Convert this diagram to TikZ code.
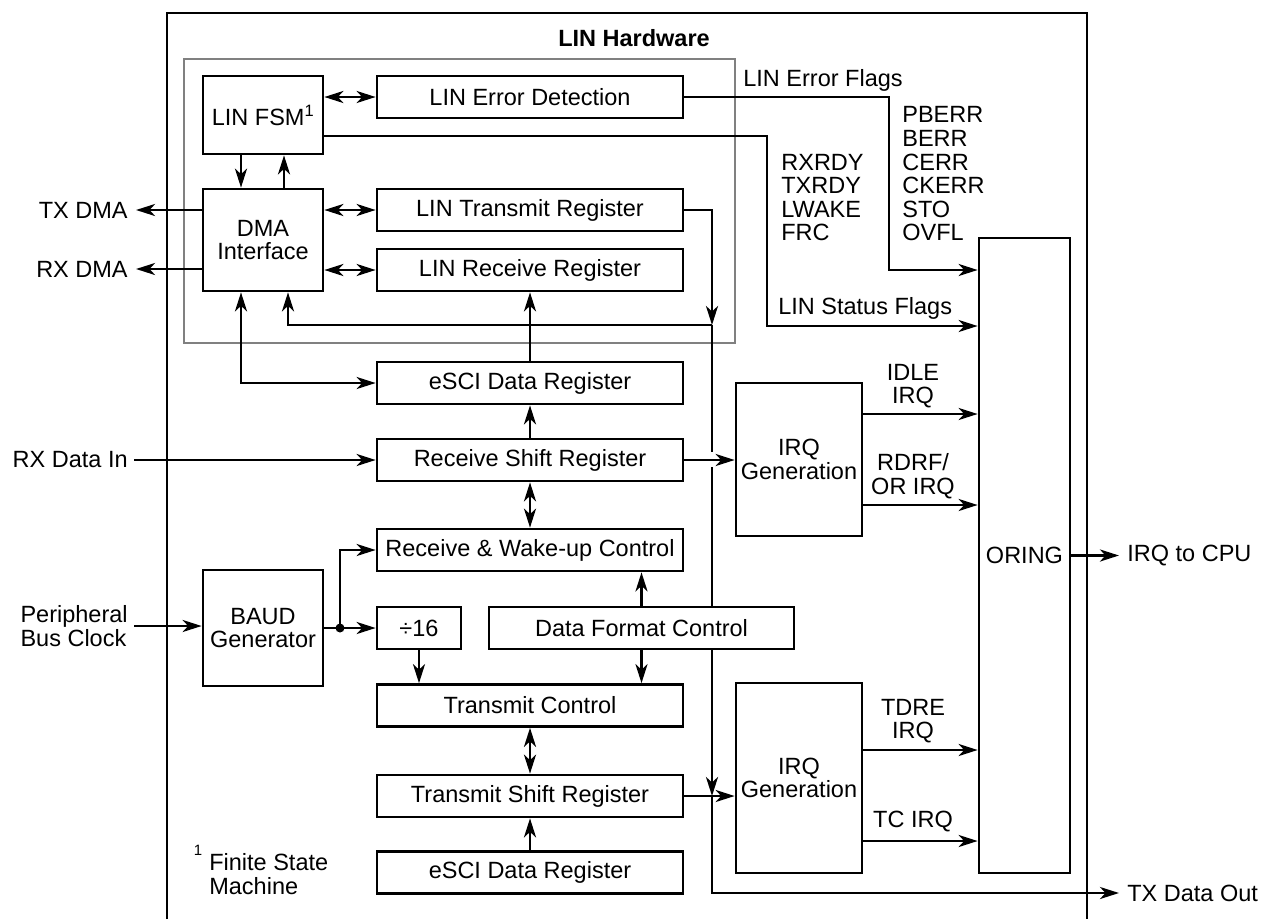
\documentclass[tikz,border=0pt]{standalone}
\usepackage{fontspec}
\setmainfont{Liberation Sans}
\usetikzlibrary{arrows.meta}
\newcommand\myfs{\fontsize{23.5}{23.6}\selectfont}
\definecolor{framegray}{RGB}{128,128,128}
\begin{document}
\begin{tikzpicture}[x=1pt,y=-1pt, line width=2.7pt,
  >={Stealth[length=19pt,width=12pt,inset=5.5pt]},
  every node/.style={font=\myfs},
  box/.style={draw, fill=white, inner sep=0pt, align=center, minimum height=42pt},
  lbl/.style={inner sep=0pt, align=left},
  graybox/.style={draw=framegray, line width=2.5pt}]
\useasboundingbox (0,0) rectangle (1263,919);

% outer frame and LIN hardware frame
\draw (167,919) -- (167,13) -- (1087,13) -- (1087,919);
\draw[graybox] (184,59) rectangle (735,343);
\node[font=\myfs\bfseries, inner sep=0pt] (hw) at (634,38) {LIN Hardware};

% blocks
\node[box, minimum width=120pt, minimum height=78pt] (fsm) at (263,115) {LIN FSM\textsuperscript{1}};
\node[box, minimum width=306pt] (errdet) at (530,97) {LIN Error Detection};
\node[box, minimum width=120pt, minimum height=102pt] (dma) at (263,240) {DMA\\Interface};
\node[box, minimum width=306pt] (ltr) at (530,210) {LIN Transmit Register};
\node[box, minimum width=306pt] (lrr) at (530,270) {LIN Receive Register};
\node[box, minimum width=306pt] (esci1) at (530,383) {eSCI Data Register};
\node[box, minimum width=306pt] (rsr) at (530,460) {Receive Shift Register};
\node[box, minimum width=306pt] (rwc) at (530,550) {Receive \& Wake-up Control};
\node[box, minimum width=84pt] (div) at (419,628) {÷16};
\node[box, minimum width=305pt] (dfc) at (641.5,628) {Data Format Control};
\node[box, minimum width=120pt, minimum height=116pt] (baud) at (263,628) {BAUD\\Generator};
\node[box, minimum width=306pt] (tc) at (530,705.5) {Transmit Control};
\node[box, minimum width=306pt] (tsr) at (530,796) {Transmit Shift Register};
\node[box, minimum width=306pt] (esci2) at (530,872.5) {eSCI Data Register};
\node[box, minimum width=126pt, minimum height=153pt] (irq1) at (799,459.5) {IRQ\\Generation};
\node[box, minimum width=126pt, minimum height=190pt] (irq2) at (799,778) {IRQ\\Generation};
\node[box, minimum width=91pt, minimum height=635pt] (oring) at (1024.5,555.5) {ORING};

% outside labels
\node[lbl, anchor=east] (txdma) at (129,210) {TX DMA};
\node[lbl, anchor=east] (rxdma) at (129,269) {RX DMA};
\node[lbl, anchor=east] (rxin) at (129,460) {RX Data In};
\node[lbl, anchor=east] (pbc) at (129,626) {Peripheral\\Bus Clock};
\node[lbl, anchor=west] (cpu) at (1126,555.5) {IRQ to CPU};
\node[lbl, anchor=west] (txout) at (1126,893) {TX Data Out};

% flag labels
\node[lbl, anchor=west] (eflags) at (742,80) {LIN Error Flags};
\node[lbl, anchor=west] (sflags) at (777,308) {LIN Status Flags};
\node[lbl, anchor=west] (slist) at (780,197.5) {RXRDY\\TXRDY\\LWAKE\\FRC};
\node[lbl, anchor=west] (elist) at (901,174) {PBERR\\BERR\\CERR\\CKERR\\STO\\OVFL};
\node[lbl, align=center] (l1) at (913,386) {IDLE\\IRQ};
\node[lbl, align=center] (l2) at (913,476) {RDRF/\\OR IRQ};
\node[lbl, align=center] (l3) at (913,721) {TDRE\\IRQ};
\node[lbl, align=center] (l4) at (913,822) {TC IRQ};

% footnote
\node[lbl, font=\fontsize{15}{16}\selectfont] (fnm) at (198,850) {1};
\node[lbl, anchor=west] (fn) at (208,874) {Finite State\\Machine};

% coordinates
\coordinate (ef) at (889,270);
\coordinate (sf) at (767,326);
\coordinate (j1) at (712,325);
\coordinate (g1) at (712,452);
\coordinate (g2) at (712,467);
\coordinate (j2) at (712,796);
\coordinate (j3) at (712,893);
\coordinate (dot) at (340,628);
\coordinate (i1) at ([yshift=45.5pt]irq1.east);
\coordinate (i2) at ([yshift=-45.5pt]irq1.east);
\coordinate (i3) at ([yshift=28pt]irq2.east);
\coordinate (i4) at ([yshift=-63pt]irq2.east);

% LIN part connectors
\draw[<->] (errdet.west -| fsm.east) -- (errdet.west);
\draw[<->] (ltr.west -| dma.east) -- (ltr.west);
\draw[<->] (lrr.west -| dma.east) -- (lrr.west);
\draw[->] ([xshift=-22pt]fsm.south) -- ([xshift=-22pt]dma.north);
\draw[->] ([xshift=21pt]dma.north) -- ([xshift=21pt]fsm.south);
\draw[->] (txdma.east -| dma.west) -- ([xshift=7pt]txdma.east);
\draw[->] (rxdma.east -| dma.west) -- ([xshift=7pt]rxdma.east);
\draw[->] (errdet.east) -| (ef) -- (ef -| oring.west);
\draw[->] ([yshift=-21pt]fsm.east) -| (sf) -- (sf -| oring.west);
\draw[->] (ltr.east) -| (j1);
\draw[->] (j1) -| ([xshift=25pt]dma.south);
\draw (j1) -- (g1);
\draw (g2) -- (g2 |- dfc.north);
\draw[->] (g2 |- dfc.south) -- (j2);
\draw[->] (j2) -- (j3) -- ([xshift=-7pt]txout.west);
\draw[->] (esci1.north) -- (lrr.south);
\draw[<->] ([xshift=-22pt]dma.south) |- (esci1.west);

% SCI part connectors
\draw[->] (rsr.north) -- (esci1.south);
\draw[->] ([xshift=5pt]rxin.east) -- (rsr.west);
\draw[->] (rsr.east) -- (rsr.east -| irq1.west);
\draw[<->] (rsr.south) -- (rwc.north);
\draw[->] ([xshift=5pt]pbc.east) -- (pbc.east -| baud.west);
\draw[->] (baud.east) -- (div.west);
\fill (dot) circle (4.5pt);
\draw[->] (dot) |- (rwc.west);
\draw[->] (dfc.north) -- (dfc.north |- rwc.south);
\draw[->] (dfc.south) -- (dfc.south |- tc.north);
\draw[->] (div.south) -- (div.south |- tc.north);
\draw[<->] (tc.south) -- (tsr.north);
\draw[->] (esci2.north) -- (tsr.south);
\draw[->] (tsr.east) -- (tsr.east -| irq2.west);

% IRQ connectors
\draw[->] (i1) -- (i1 -| oring.west);
\draw[->] (i2) -- (i2 -| oring.west);
\draw[->] (i3) -- (i3 -| oring.west);
\draw[->] (i4) -- (i4 -| oring.west);
\draw[->] (oring.east) -- ([xshift=-7pt]cpu.west);
\end{tikzpicture}
\end{document}
